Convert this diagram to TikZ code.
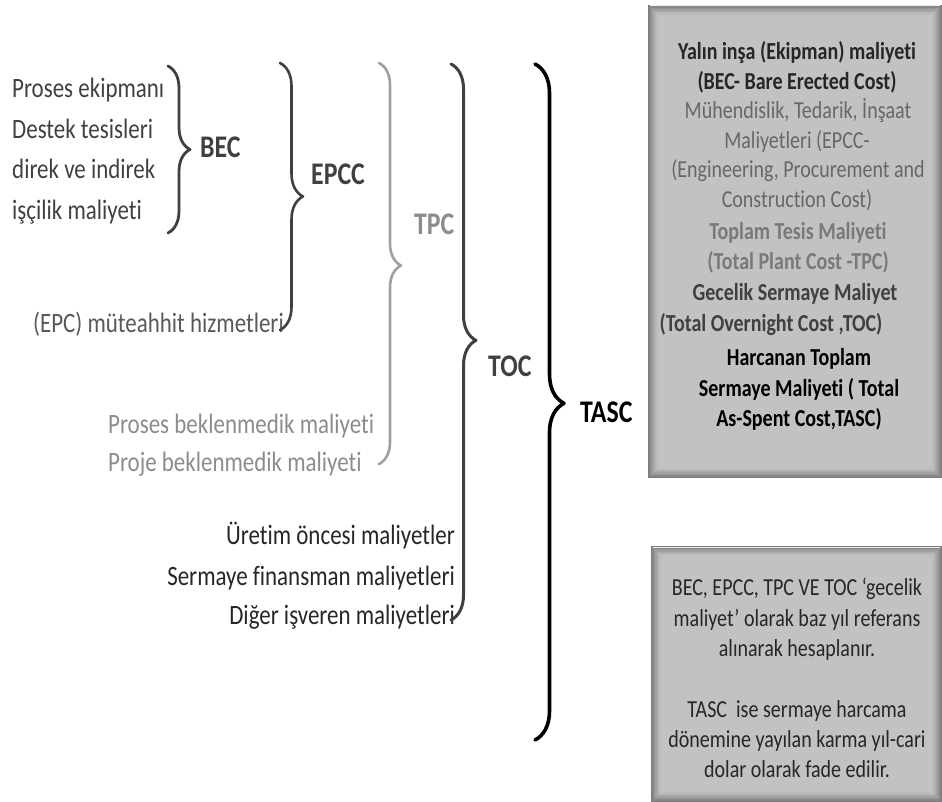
\documentclass[tikz,border=0pt]{standalone}
\usepackage{fontspec}
% Carlito, condensed so the glyphs stand taller at the same width
\setmainfont{Carlito}[Ligatures=NoCommon, FakeStretch=0.82]
\usetikzlibrary{decorations.pathreplacing,calc}

\definecolor{inkDark}{HTML}{262626}
\definecolor{inkMid}{HTML}{404040}
\definecolor{inkSoft}{HTML}{595959}
\definecolor{inkPanel}{HTML}{676767}
\definecolor{inkGray}{HTML}{8C8C8C}
\definecolor{braceGray}{HTML}{A0A0A0}
\definecolor{panelFill}{HTML}{C2C2C2}
\definecolor{panelEdge}{HTML}{7A7A7A}

\tikzset{
  itemtext/.style={font=\fontsize{28}{32}\selectfont, inner sep=0pt},
  sumlabel/.style={font=\bfseries\fontsize{31.5}{34}\selectfont, inner sep=0pt, anchor=base west},
  panelline/.style={font=\fontsize{24.4}{28}\selectfont, inner sep=0pt, anchor=base},
  panelbold/.style={panelline, font=\bfseries\fontsize{24.4}{28}\selectfont},
  bracket/.style={decorate, line cap=round, line join=round,
                  decoration={brace, amplitude=#1}},
}

% panel with a soft inner shadow along its edges
\newcommand{\shadedpanel}[4]{%
  \fill[panelFill] (#1,#2) rectangle (#3,#4);
  \foreach \d/\s in {0.8/100,2.2/80,3.6/62,5.0/46,6.4/32,7.8/20,9.2/10}{%
    \draw[line width=1.5pt, panelEdge!\s!panelFill]
      ($(#1,#2)+(\d,\d)$) rectangle ($(#3,#4)+(-\d,-\d)$);}
  \draw[line width=1pt, white!70!panelFill] (#1+2,#2+1) -- (#3-2,#2+1);
}

\begin{document}
\begin{tikzpicture}[x=1pt, y=-1pt]
\path[use as bounding box] (0,0) rectangle (942,802);

% ---------- BEC group ----------
\node[itemtext, anchor=base west, text=inkMid] (pe) at (12,98)  {Proses ekipmanı};
\node[itemtext, anchor=base west, text=inkMid] (dt) at (12,139) {Destek tesisleri};
\node[itemtext, anchor=base west, text=inkMid] (di) at (12,179) {direk ve indirek};
\node[itemtext, anchor=base west, text=inkMid] (im) at (12,220) {işçilik maliyeti};

\coordinate (becTop) at (168,66);
\coordinate (becBot) at (168,233);
\draw[bracket=22, decoration={aspect=0.5}, line width=2.8pt, inkMid] (becTop) -- (becBot);
\node[sumlabel, text=inkMid] (bec) at (200,158) {BEC};

% ---------- EPCC group ----------
\node[itemtext, anchor=base east, text=inkSoft] (epc) at (284,332) {(EPC) müteahhit hizmetleri};
\coordinate (epccTop) at (280,63);
\coordinate (epccBot) at (280,330);
\draw[bracket=23, decoration={aspect=0.5}, line width=2.6pt, inkMid] (epccTop) -- (epccBot);
\node[sumlabel, text=inkMid] (epcc) at (311,185) {EPCC};

% ---------- TPC group ----------
\node[itemtext, anchor=base west, text=inkGray] (pbm) at (108,433) {Proses beklenmedik maliyeti};
\node[itemtext, anchor=base west, text=inkGray] (pjm) at (108,471) {Proje beklenmedik maliyeti};
\coordinate (tpcTop) at (379,63);
\coordinate (tpcBot) at (379,464);
\draw[bracket=22, decoration={aspect=0.505}, line width=2.6pt, braceGray] (tpcTop) -- (tpcBot);
\node[sumlabel, text=inkGray] (tpc) at (414,235) {TPC};

% ---------- TOC group ----------
\node[itemtext, anchor=base east, text=inkDark] (uom) at (455,544) {Üretim öncesi maliyetler};
\node[itemtext, anchor=base east, text=inkDark] (sfm) at (455,585) {Sermaye finansman maliyetleri};
\node[itemtext, anchor=base east, text=inkDark] (dim) at (455,624) {Diğer işveren maliyetleri};
\coordinate (tocTop) at (451,64);
\coordinate (tocBot) at (451,620);
\draw[bracket=25, decoration={aspect=0.497}, line width=3pt, inkMid] (tocTop) -- (tocBot);
\node[sumlabel, text=inkMid] (toc) at (488,376) {TOC};

% ---------- TASC group ----------
\coordinate (tascTop) at (535,64);
\coordinate (tascBot) at (535,740);
\draw[bracket=29, decoration={aspect=0.502}, line width=3.6pt, black] (tascTop) -- (tascBot);
\node[sumlabel, text=black] (tasc) at (580,422) {TASC};

% ---------- definitions panel ----------
\shadedpanel{648}{5}{942}{478}
\node[panelbold, text=inkDark] (d1) at (797,60)  {Yalın inşa (Ekipman) maliyeti};
\node[panelbold, text=inkDark] (d2) at (797,90)  {(BEC- Bare Erected Cost)};
\node[panelline, text=inkPanel] (d3) at (798,119) {Mühendislik, Tedarik, İnşaat};
\node[panelline, text=inkPanel] (d4) at (797,149) {Maliyetleri (EPCC-};
\node[panelline, text=inkPanel] (d5) at (798,178) {(Engineering, Procurement and};
\node[panelline, text=inkPanel] (d6) at (797,208) {Construction Cost)};
\node[panelbold, text=gray!95!black] (d7) at (798,240) {Toplam Tesis Maliyeti};
\node[panelbold, text=gray!95!black] (d8) at (798,270) {(Total Plant Cost -TPC)};
\node[panelbold, text=inkMid] (d9) at (795,301) {Gecelik Sermaye Maliyet};
\node[panelbold, text=inkMid] (d10) at (771,331) {(Total Overnight Cost ,TOC)};
\node[panelbold, text=black] (d11) at (799,365) {Harcanan Toplam};
\node[panelbold, text=black] (d12) at (799,396) {Sermaye Maliyeti ( Total};
\node[panelbold, text=black] (d13) at (799,426) {As-Spent Cost,TASC)};

% ---------- note panel ----------
\shadedpanel{651}{546}{942}{802}
\node[panelline, text=inkDark] (n1) at (797,595) {BEC, EPCC, TPC VE TOC ‘gecelik};
\node[panelline, text=inkDark] (n2) at (797,626) {maliyet’ olarak baz yıl referans};
\node[panelline, text=inkDark] (n3) at (797,656) {alınarak hesaplanır.};
\node[panelline, text=inkDark] (n4) at (797,717) {TASC\ \ ise sermaye harcama};
\node[panelline, text=inkDark] (n5) at (797,747) {dönemine yayılan karma yıl-cari};
\node[panelline, text=inkDark] (n6) at (797,777) {dolar olarak fade edilir.};
\end{tikzpicture}
\end{document}
